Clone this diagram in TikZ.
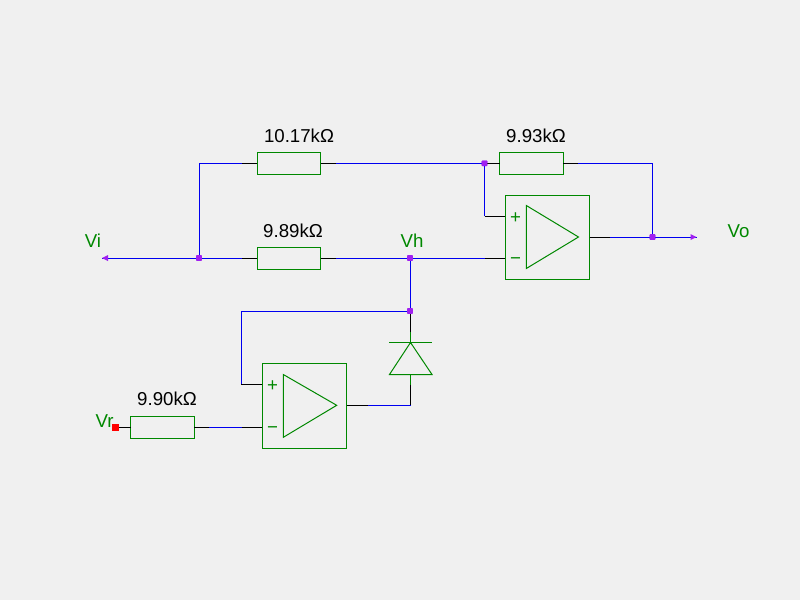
\documentclass[tikz,border=0pt]{standalone}
\usepackage{fontspec}
\setmainfont{Liberation Sans}
\definecolor{bggray}{RGB}{240,240,240}
\definecolor{partgreen}{RGB}{0,136,0}
\definecolor{wireblue}{RGB}{0,0,240}
\definecolor{dotpurple}{RGB}{160,32,240}
\tikzset{every picture/.style={line width=0.75pt}}
\tikzset{
  wire/.style={draw=wireblue},
  lead/.style={draw=black},
  stub/.style={draw=partgreen},
  part/.style={draw=partgreen},
  resistor/.style={draw=partgreen,rectangle,minimum width=47.6pt,minimum height=16.5pt,inner sep=0pt,outer sep=0pt},
  opbox/.style={draw=partgreen,rectangle,minimum width=63.25pt,minimum height=63pt,inner sep=0pt,outer sep=0pt},
  junction/.style={fill=dotpurple,rectangle,rounded corners=0.6pt,minimum size=4.2pt,inner sep=0pt,outer sep=0pt},
  tip/.style={fill=dotpurple,draw=none},
  value/.style={anchor=base,inner sep=0pt,font=\fontsize{14pt}{16pt}\selectfont,text=black},
  netname/.style={anchor=base,inner sep=0pt,font=\fontsize{14pt}{16pt}\selectfont,text=partgreen},
  sign/.style={anchor=center,inner sep=0pt,font=\fontsize{14pt}{16pt}\selectfont,text=partgreen},
}

\begin{document}
\begin{tikzpicture}[x=0.75pt,y=0.75pt,yscale=-1,xscale=1]
\fill[bggray] (0,0) rectangle (800,600);
\useasboundingbox (0,0) rectangle (800,600);

%Resistors
\draw (289,163.3) node [resistor] (Rtop) {};
\draw (531.5,163.3) node [resistor] (Rfb) {};
\draw (289,258) node [resistor] (Rin) {};
\draw (162.5,427) node [resistor] (Rref) {};
%Op amp boxes
\draw (547.5,237.3) node [opbox] (upper) {};
\draw (304.5,405.8) node [opbox,minimum height=63.75pt] (lower) {};
%Op amp triangles
\draw [part] (526.3,205.5) -- (578.5,237) -- (526.3,268.5) -- cycle ;
\draw [part] (283.3,374.5) -- (336.7,405.3) -- (283.3,437.3) -- cycle ;
%Diode
\draw [part] (410.5,342.5) -- (432,374.5) -- (389.5,374.5) -- cycle ;
\draw [part] (389,342.5) coordinate (barL) -- (432,342.5) coordinate (barR) ;

%Junctions
\draw (199,258) node [junction] (Ji) {};
\draw (484.5,163.3) node [junction] (Jp) {};
\draw (410,258) node [junction] (Jh) {};
\draw (410,311) node [junction] (Jd) {};
\draw (652.5,237) node [junction] (Jo) {};
%Free ends and lead ends
\coordinate (Vileft) at (102,258);
\coordinate (Voright) at (696.5,237);
\coordinate (RtopL) at (242,163.3);
\coordinate (RtopR) at (336,163.3);
\coordinate (RfbL) at (487,163.3);
\coordinate (RfbR) at (578,163.3);
\coordinate (RinL) at (242,258);
\coordinate (RinR) at (336,258);
\coordinate (upperM) at (485,258);
\coordinate (upperP) at (484.5,216);
\coordinate (upperO) at (610,237);
\coordinate (lowerP) at (241,384.5);
\coordinate (lowerM) at (241.5,427);
\coordinate (RrefR) at (209,427);
\coordinate (lowerO) at (368,405);
\coordinate (Dcorner) at (410.5,405);
\coordinate (Dlow) at (410.5,385);
\coordinate (Dhigh) at (410.5,332);

%Blue wires
\draw [wire] (Vileft) -- (RinL) ;
\draw [wire] (Ji) |- (RtopL) ;
\draw [wire] (RtopR) -- (Jp) ;
\draw [wire] (Jp) -- (upperP) ;
\draw [wire] (RfbR) -| (Jo) ;
\draw [wire] (upperO) -- (Voright) ;
\draw [wire] (RinR) -- (upperM) ;
\draw [wire] (Jh) -- (Jd) ;
\draw [wire] (Jd) -| (lowerP) ;
\draw [wire] (RrefR) -- (lowerM) ;
\draw [wire] (lowerO) -- (Dcorner) ;
%Black leads
\draw [lead] (RtopL) -- (Rtop.west) ;
\draw [lead] (Rtop.east) -- (RtopR) ;
\draw [lead] (RinL) -- (Rin.west) ;
\draw [lead] (Rin.east) -- (RinR) ;
\draw [lead] (RfbL) -- (Rfb.west) ;
\draw [lead] (Rfb.east) -- (RfbR) ;
\draw [lead] (upperP) -- (upperP -| upper.west) ;
\draw [lead] (upperM) -- (upperM -| upper.west) ;
\draw [lead] (upperO -| upper.east) -- (upperO) ;
\draw [lead] (lowerP) -- (lowerP -| lower.west) ;
\draw [lead] (lowerM) -- (lowerM -| lower.west) ;
\draw [lead] (Rref.east) -- (RrefR) ;
\draw [lead] (lowerO -| lower.east) -- (lowerO) ;
\draw [lead] (Dcorner) -- (Dlow) ;
\draw [lead] (Jd.south -| Dhigh) -- (Dhigh) ;
\draw [stub] (Dlow) -- (410.5,374.5) ;
\draw [stub] (Dhigh) -- (410.5,342.5) ;
%Redraw junctions on top
\draw (199,258) node [junction] {};
\draw (484.5,163.3) node [junction] {};
\draw (410,258) node [junction] {};
\draw (410,311) node [junction] {};
\draw (652.5,237) node [junction] {};
%Arrow heads
\fill [tip] (Vileft) -- ++(6,-3) -- ++(0,6) -- cycle ;
\fill [tip] (Voright) -- ++(-6,-3) -- ++(0,6) -- cycle ;
%Source square
\draw (115.5,427) node [fill=red,rectangle,minimum size=5.25pt,inner sep=0pt,outer sep=0pt] (Vrsq) {};
\draw [lead] (Vrsq.east) -- (Rref.west) ;

% Text Node
\draw (299,142) node [value] (ltop) {10.17kΩ};
% Text Node
\draw (536,142) node [value] (lfb) {9.93kΩ};
% Text Node
\draw (293,237) node [value] (lin) {9.89kΩ};
% Text Node
\draw (167,405) node [value] (lref) {9.90kΩ};
% Text Node
\draw (93,247) node [netname] (Vi) {Vi};
% Text Node
\draw (412,247) node [netname] (Vh) {Vh};
% Text Node
\draw (738.5,237) node [netname] (Vo) {Vo};
% Text Node
\draw (104.5,427) node [netname] (Vr) {Vr};
% Text Node
\draw (515.5,218) node [sign] (pu) {+};
% Text Node
\draw (515.5,261.5) node [sign] (mu) {−};
% Text Node
\draw (272.5,386) node [sign] (pl) {+};
% Text Node
\draw (272.5,430.5) node [sign] (ml) {−};

\end{tikzpicture}
\end{document}
